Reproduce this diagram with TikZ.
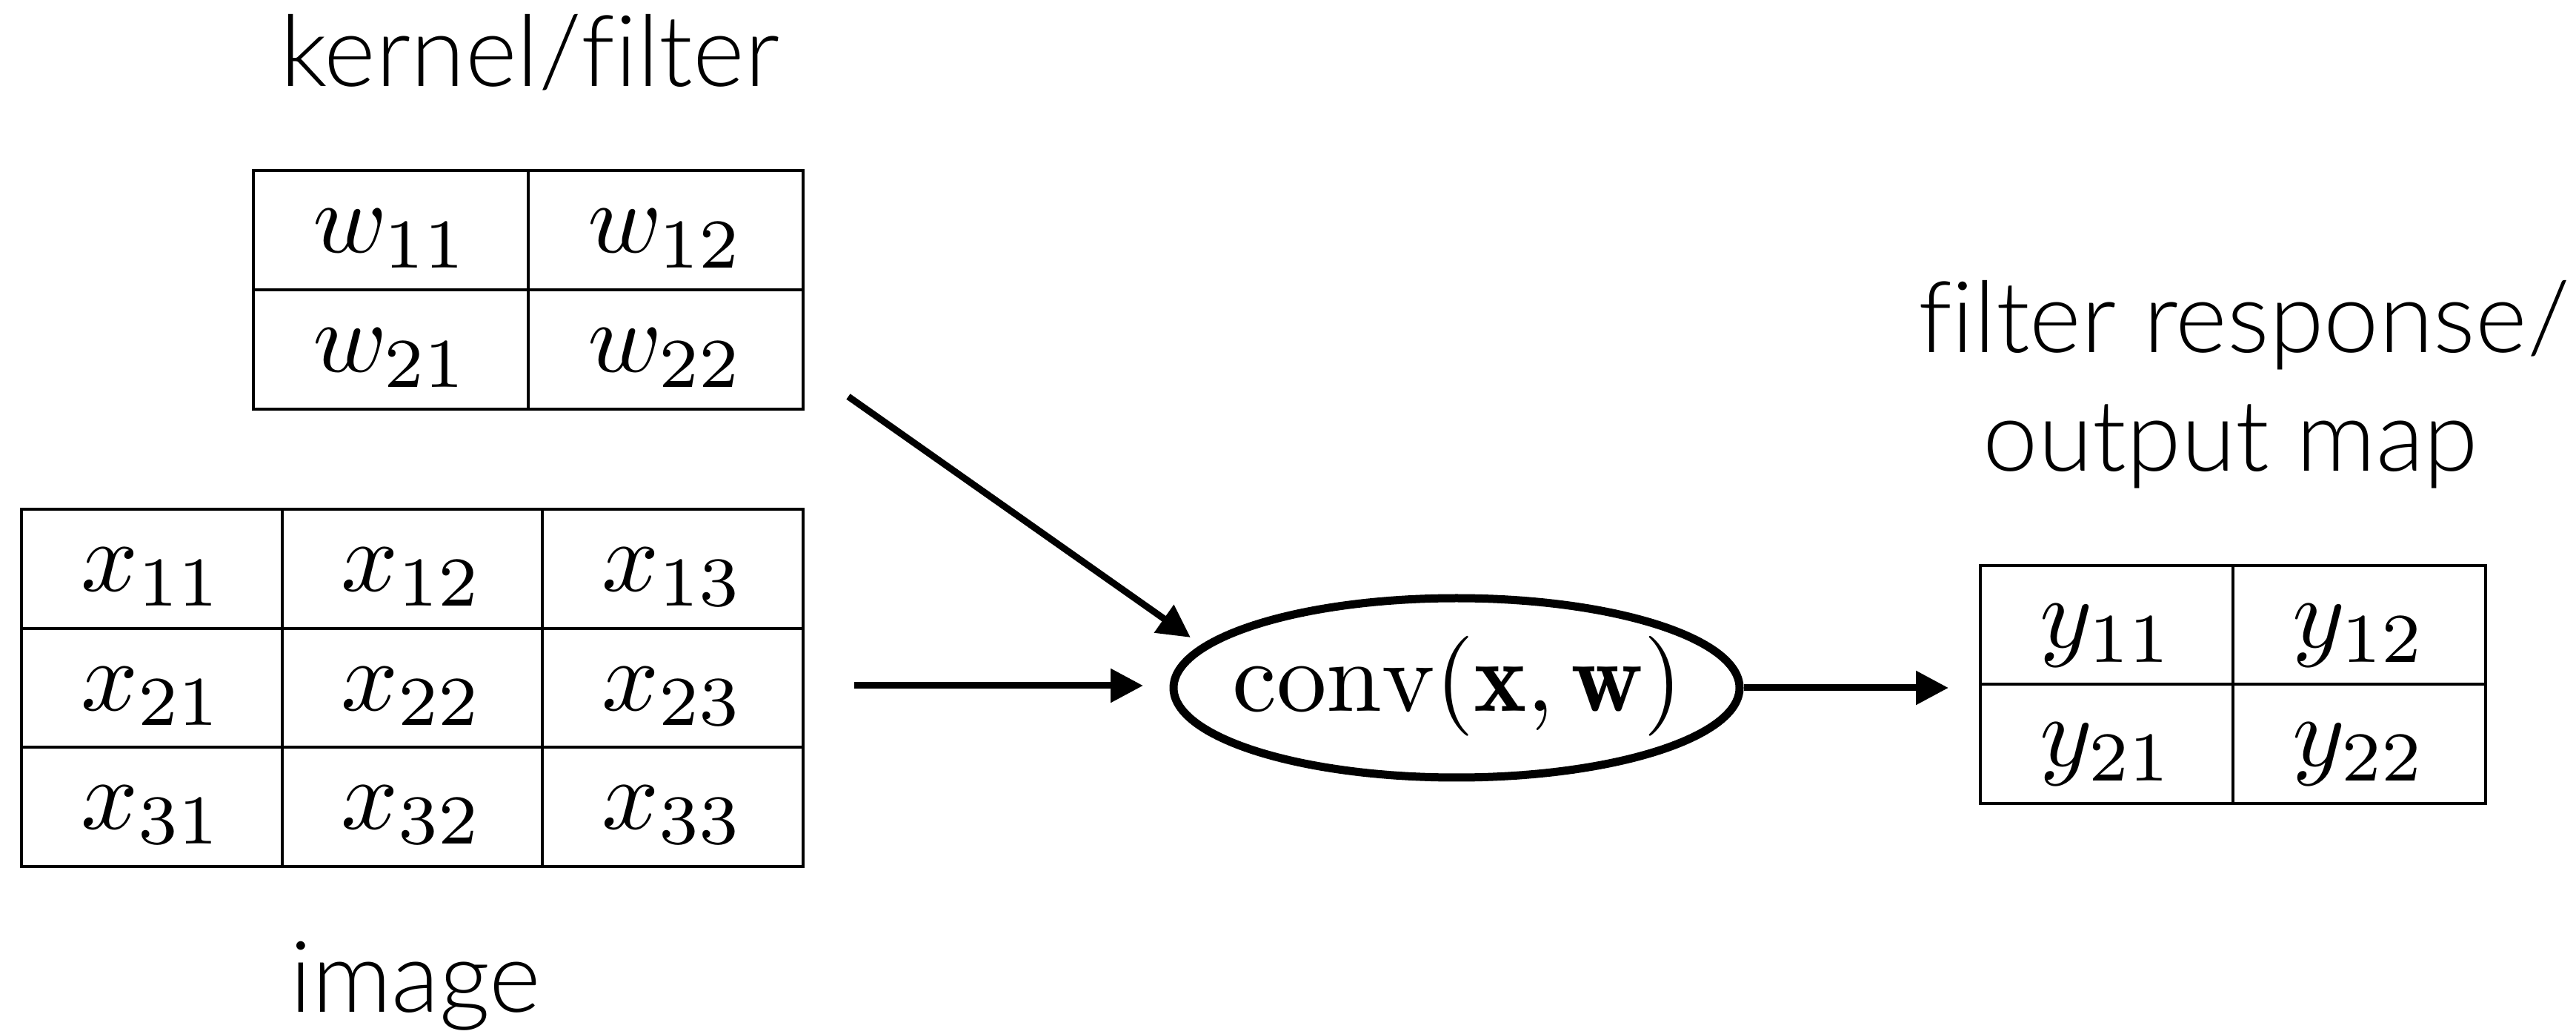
\RequirePackage{fix-cm}
\documentclass[tikz,border=0pt]{standalone}
\usepackage{graphicx}
\usepackage{fontspec}
\IfFontExistsTF{Lato Light}{\newfontfamily\labfont{Lato Light}[Ligatures={NoCommon}]}{\newfontfamily\labfont{Lato}[Ligatures={NoCommon}]}
\usetikzlibrary{shapes.geometric,arrows.meta}
\newcommand\mth[1]{\scalebox{3.84}{$#1$}}
\newcommand\labfs{\labfont\fontsize{38}{46}\selectfont}
\begin{document}
\begin{tikzpicture}[
  tab/.style={draw, line width=0.04cm, inner sep=0pt, text height=0.9cm, text depth=0.3cm},
  kc/.style={tab, minimum width=3.71cm, minimum height=1.61cm},
  xc/.style={tab, minimum width=3.517cm, minimum height=1.607cm},
  yc/.style={tab, minimum width=3.41cm, minimum height=1.605cm},
  lab/.style={font=\labfs, anchor=base, inner sep=0pt},
  arr/.style={line width=0.09cm, -{Triangle[length=0.44cm,width=0.44cm]}}
]
\useasboundingbox (0,0) rectangle (34.77,-13.95);
% kernel
\node[kc] (w11) at (5.275,-3.11) {\mth{w_{11}}};
\node[kc] (w12) at (8.985,-3.11) {\mth{w_{12}}};
\node[kc] (w21) at (5.275,-4.72) {\mth{w_{21}}};
\node[kc] (w22) at (8.985,-4.72) {\mth{w_{22}}};
% image
\node[xc] (x11) at (2.0485,-7.6735) {\mth{x_{11}}};
\node[xc] (x12) at (5.5655,-7.6735) {\mth{x_{12}}};
\node[xc] (x13) at (9.0825,-7.6735) {\mth{x_{13}}};
\node[xc] (x21) at (2.0485,-9.2805) {\mth{x_{21}}};
\node[xc] (x22) at (5.5655,-9.2805) {\mth{x_{22}}};
\node[xc] (x23) at (9.0825,-9.2805) {\mth{x_{23}}};
\node[xc] (x31) at (2.0485,-10.8875) {\mth{x_{31}}};
\node[xc] (x32) at (5.5655,-10.8875) {\mth{x_{32}}};
\node[xc] (x33) at (9.0825,-10.8875) {\mth{x_{33}}};
% output
\node[yc] (y11) at (28.435,-8.4325) {\mth{y_{11}}};
\node[yc] (y12) at (31.845,-8.4325) {\mth{y_{12}}};
\node[yc] (y21) at (28.435,-10.0375) {\mth{y_{21}}};
\node[yc] (y22) at (31.845,-10.0375) {\mth{y_{22}}};
% conv
\node[draw, ellipse, line width=0.11cm, minimum width=7.64cm, minimum height=2.42cm, inner sep=0pt] (conv) at (19.66,-9.28) {};
\node[anchor=base, inner sep=0pt] (convtext) at (19.67,-9.60) {\mth{\mathrm{conv}(\mathbf{x}, \mathbf{w})}};
% labels
\node[lab] (klabel) at (7.15,-1.17) {kernel/filter};
\node[lab] (ilabel) at (5.61,-13.66) {image};
\node[lab] (olabel1) at (30.29,-4.76) {filter response/};
\node[lab] (olabel2) at (30.11,-6.36) {output map};
% arrows
\coordinate (kout) at (11.45,-5.35);
\coordinate (kin) at (16.07,-8.60);
\coordinate (xout) at (11.53,-9.25);
\coordinate (xin) at (15.43,-9.25);
\coordinate (yin) at (26.30,-9.28);
\draw[arr] (kout) -- (kin);
\draw[arr] (xout) -- (xin);
\draw[arr] (conv.east) -- (yin);
\end{tikzpicture}
\end{document}
